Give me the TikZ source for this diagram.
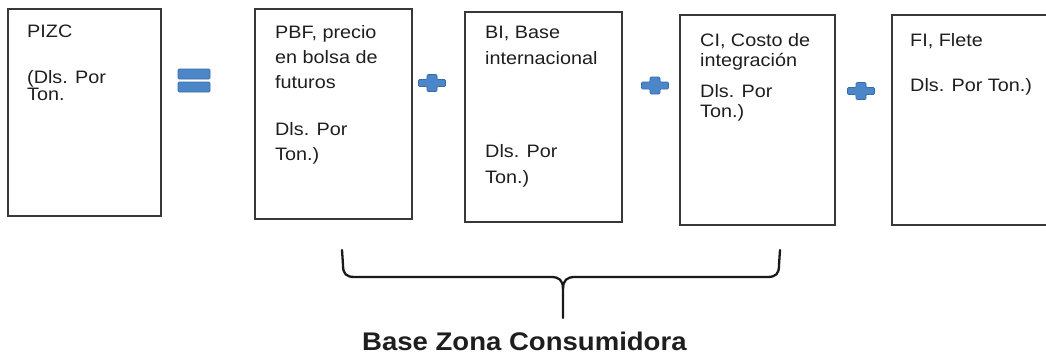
\documentclass[tikz,border=0pt]{standalone}
\usepackage{fontspec}
\setmainfont{Liberation Sans}
\newfontfamily\boxfont[FakeStretch=1.1]{Liberation Sans}
\newfontfamily\bracefont[FakeStretch=1.08]{Liberation Sans}
\definecolor{signblue}{HTML}{4A86C8}
\definecolor{signedge}{HTML}{3A6CA6}
\definecolor{txt}{HTML}{1E1E1E}
\tikzset{
  box/.style={draw=black!78, line width=1.8pt, rectangle, inner sep=0pt, outer sep=0pt, anchor=north west},
  boxtext/.style={anchor=base west, inner sep=0pt, text=txt},
  sign/.style={fill=signblue, draw=signedge, line width=0.6pt, rounded corners=1pt},
  bracestroke/.style={draw=black!90, line width=2.3pt, line cap=round, line join=round},
  plussign/.pic={\path[sign] (-13.5,-3.5) -- (-5,-3.5) -- (-5,-8.5) -- (5,-8.5) -- (5,-3.5) -- (13.5,-3.5) -- (13.5,3.5) -- (5,3.5) -- (5,8.5) -- (-5,8.5) -- (-5,3.5) -- (-13.5,3.5) -- cycle;},
  equalsign/.pic={\path[sign] (-16,-11.5) rectangle (16,-1.5); \path[sign] (-16,1.5) rectangle (16,11.5);}
}
\begin{document}
\begin{tikzpicture}[x=1pt,y=-1pt]
\useasboundingbox (0,0) rectangle (1046,356);
\clip (0,0) rectangle (1046,356);
% boxes
\node[box, minimum width=153pt, minimum height=207pt] (pizc) at (8,9) {};
\node[box, minimum width=157pt, minimum height=210pt] (pbf) at (255,9) {};
\node[box, minimum width=157pt, minimum height=210pt] (bi) at (465,12) {};
\node[box, minimum width=155pt, minimum height=210pt] (ci) at (680,15) {};
\node[box, minimum width=170pt, minimum height=210pt] (fi) at (892,15) {};
% texts
\node[boxtext, font={\boxfont\fontsize{18pt}{17.5pt}\selectfont}] (tpizc) at (27,37)
  {\vtop{\hbox{PIZC}\vskip28.5pt\hbox{(Dls. Por}\hbox{Ton.}}};
\node[boxtext, font={\boxfont\fontsize{18pt}{25pt}\selectfont}] (tpbf) at (275,38)
  {\vtop{\hbox{PBF, precio}\hbox{en bolsa de}\hbox{futuros}\vskip22pt\hbox{Dls. Por}\hbox{Ton.)}}};
\node[boxtext, font={\boxfont\fontsize{18pt}{26pt}\selectfont}] (tbi) at (485,38)
  {\vtop{\hbox{BI, Base}\hbox{internacional}\vskip67pt\hbox{Dls. Por}\hbox{Ton.)}}};
\node[boxtext, font={\boxfont\fontsize{18pt}{20.5pt}\selectfont}] (tci) at (700,46)
  {\vtop{\hbox{CI, Costo de}\hbox{integración}\vskip10pt\hbox{Dls. Por}\hbox{Ton.)}}};
\node[boxtext, font={\boxfont\fontsize{18pt}{20pt}\selectfont}] (tfi) at (910,46)
  {\vtop{\hbox{FI, Flete}\vskip25pt\hbox{Dls. Por Ton.)}}};
% signs
\pic at (194,80.5) {equalsign};
\pic at (432,83) {plussign};
\pic at (655,85.5) {plussign};
\pic at (861,91) {plussign};
% brace
\coordinate (bl) at (342,250);
\coordinate (br) at (780,250);
\coordinate (btip) at (563,318);
\draw[bracestroke] (bl) -- (343,265) .. controls (343,274) and (346,277) .. (355,277) -- (551,277) .. controls (559,277) and (563,280) .. (563,289) -- (btip);
\draw[bracestroke] (br) -- (779,265) .. controls (779,274) and (776,277) .. (767,277) -- (575,277) .. controls (567,277) and (563,280) .. (563,289);
\node[anchor=base west, inner sep=0pt, text=txt, font={\bracefont\bfseries\fontsize{25.5pt}{30pt}\selectfont}] (bzc) at (362,350) {Base Zona Consumidora};
\end{tikzpicture}
\end{document}
